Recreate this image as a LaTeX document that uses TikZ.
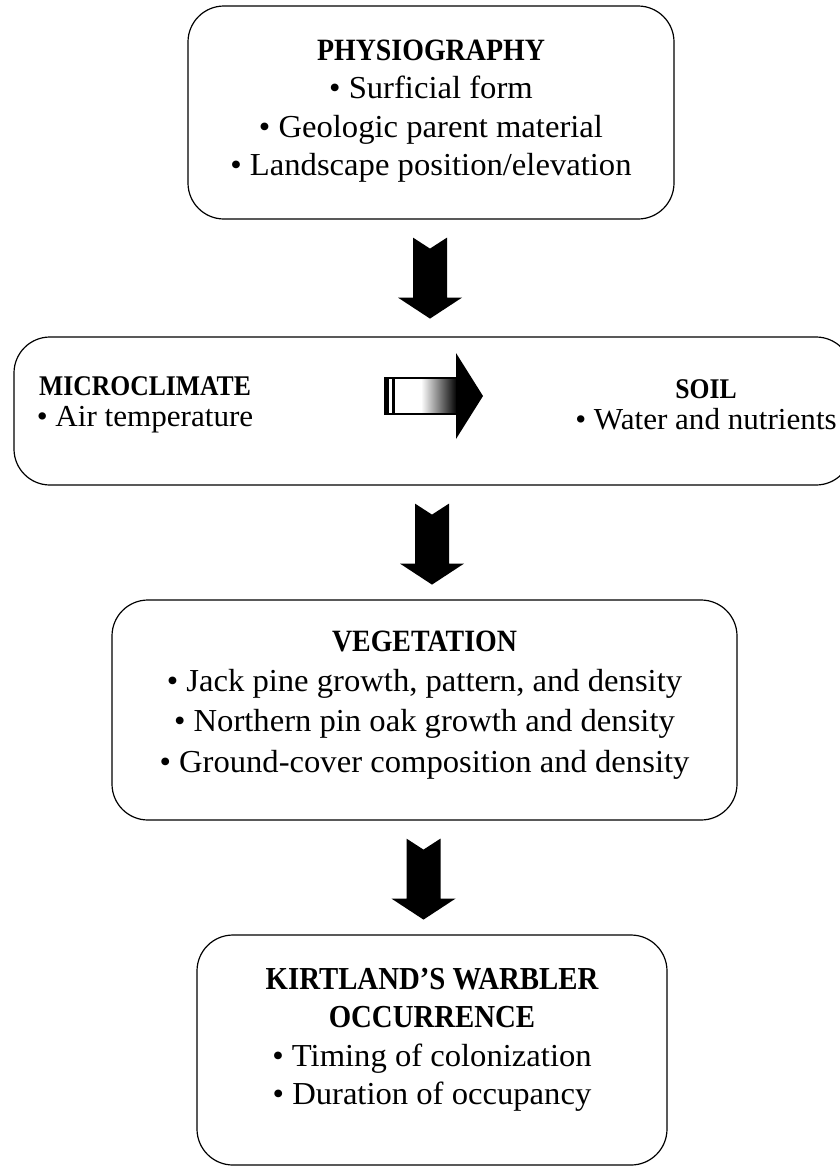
\documentclass[tikz,border=0pt]{standalone}
\usepackage{fontspec}
\setmainfont{Liberation Serif}[FakeStretch=1.02]
\newfontfamily\hfont{Liberation Serif}[FakeStretch=0.9]
\usetikzlibrary{calc}
\tikzset{
  box/.style={draw=black, line width=1.2pt, rounded corners=36pt, inner sep=0pt},
  txt/.style={align=center, inner sep=0pt, font=\fontsize{32}{38.5}\selectfont},
  blk/.style={fill=black, draw=none},
}
\newcommand{\hd}[2]{{\hfont\fontsize{#1}{38.5}\selectfont\bfseries #2}}
\begin{document}
\begin{tikzpicture}[x=1pt,y=-1pt]
\useasboundingbox (0,0) rectangle (840,1176);
\clip (0,0) rectangle (840,1176);
% boxes
\node[box, minimum width=486pt, minimum height=213pt] (phys) at (431,112.5) {};
\node[box, minimum width=838pt, minimum height=148pt] (mid) at (433,411) {};
\node[box, minimum width=625pt, minimum height=220pt] (veg) at (424.5,710) {};
\node[box, minimum width=470pt, minimum height=230pt] (kw) at (432,1050) {};
% texts
\node[txt] (physT) at (431,111) {\hd{31}{PHYSIOGRAPHY}\\ • Surficial form\\ • Geologic parent material\\ • Landscape position/elevation};
\node[txt, font=\fontsize{30.5}{31}\selectfont] (micro) at (145,405) {\hd{28.5}{MICROCLIMATE}\\ • Air temperature};
\node[txt, font=\fontsize{30.5}{31}\selectfont] (soil) at (706,405) {\hd{28.5}{SOIL}\\ • Water and nutrients};
\node[txt, font=\fontsize{32}{40.3}\selectfont] (vegT) at (424.5,705) {\hd{31}{VEGETATION}\\ • Jack pine growth, pattern, and density\\ • Northern pin oak growth and density\\ • Ground-cover composition and density};
\node[txt] (kwT) at (432,1040) {\hd{32}{KIRTLAND’S WARBLER}\\ \hd{32}{OCCURRENCE}\\ • Timing of colonization\\ • Duration of occupancy};
% vertical block arrows: from box to box
\foreach \a in {phys, mid, veg}{
  \coordinate (t) at ($(\a.south)+(-1,18)$);
  \fill[blk] ($(t)+(-17,0)$) -- ($(t)+(0,11)$) -- ($(t)+(17,0)$)
     -- ($(t)+(17,60)$) -- ($(t)+(32,60)$) -- ($(t)+(0,81)$) -- ($(t)+(-32,60)$)
     -- ($(t)+(-17,60)$) -- cycle;
}
% horizontal arrow from microclimate to soil
\coordinate (h) at (385,396);
\shade[left color=white, right color=black, middle color=white, shading angle=90]
  ($(h)+(0,-18)$) rectangle ($(h)+(72,18)$);
\draw[line width=1.2pt] ($(h)+(0,-18)$) rectangle ($(h)+(72,18)$);
\fill[black] ($(h)+(0,-18)$) rectangle ($(h)+(4,18)$);
\fill[black] ($(h)+(7,-18)$) rectangle ($(h)+(10,18)$);
\fill[black] ($(h)+(71,-43)$) -- ($(h)+(98,0)$) -- ($(h)+(71,43)$) -- cycle;
\end{tikzpicture}
\end{document}
